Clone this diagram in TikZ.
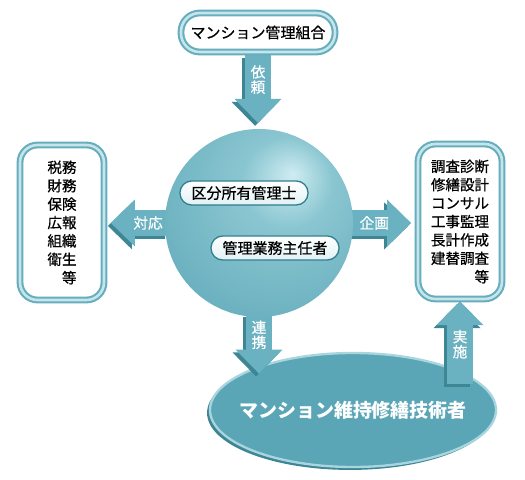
\documentclass[tikz,border=0pt]{standalone}
\usepackage{fontspec}
\setmainfont{Noto Sans CJK JP}
\newfontfamily\jpmed{Noto Sans CJK JP}[FakeBold=0.6]
\usetikzlibrary{arrows.meta,shapes.geometric,positioning}

\definecolor{boxline}{HTML}{66AEBD}
\definecolor{boxlight}{HTML}{C6E5EB}
\definecolor{arrowcol}{HTML}{6AB2C1}
\definecolor{arrowdark}{HTML}{3F8694}
\definecolor{sphhi}{HTML}{CFECF1}
\definecolor{sphmid}{HTML}{8AC6D1}
\definecolor{sphlow}{HTML}{62AABA}
\definecolor{sphedge}{HTML}{4790A1}
\definecolor{ellfill}{HTML}{5AA6B6}
\definecolor{ellrim}{HTML}{A9D5DE}
\definecolor{elldark}{HTML}{3E8595}
\definecolor{roleline}{HTML}{2F7E8F}
\definecolor{rolefill}{HTML}{E2F1F4}

\pgfdeclareradialshading{sphereshade}{\pgfpoint{9bp}{13bp}}{color(0bp)=(sphhi); color(12bp)=(sphmid); color(40bp)=(sphlow); color(70bp)=(sphedge)}

\pgfdeclarelayer{background}
\pgfsetlayers{background,main}

\begin{document}
\begin{tikzpicture}
        [x=0.03cm, y=-0.03cm,
        every node/.style={inner sep=0pt},
        titlebox/.style={rectangle, rounded corners=16pt, draw=boxline, double=boxlight, double distance=2.2pt, line width=1.8pt, fill=white, minimum width=4.62cm, minimum height=1.17cm, font=\jpmed\fontsize{12.8}{14}\selectfont},
        listbox/.style={rectangle, rounded corners=15pt, draw=boxline, double=boxlight, double distance=2.2pt, line width=1.8pt, fill=white, minimum width=2.52cm, minimum height=4.65cm, align=right, font=\jpmed\fontsize{12.4}{15.7}\selectfont},
        ball/.style={circle, minimum size=5.64cm, shading=sphereshade},
        role/.style={rectangle, rounded corners=10pt, draw=roleline, line width=1.1pt, top color=white, bottom color=rolefill, minimum width=3.84cm, minimum height=0.72cm, font=\jpmed\fontsize{12.8}{14}\selectfont},
        worker/.style={ellipse, minimum width=8.58cm, minimum height=3.42cm, inner xsep=-0.5cm, fill=ellfill, draw=ellrim, line width=2pt, text=white, font=\fontsize{16.2}{18}\selectfont\bfseries, preaction={fill=elldark, transform canvas={shift={(-2.5pt,-2.5pt)}}}},
        blockarrow/.style={draw=arrowcol, line width=0.78cm, -{Triangle[width=1.41cm, length=0.72cm, line width=0pt]}},
        arrowshade/.style={blockarrow, draw=arrowdark, transform canvas={shift={(-2.5pt,-2.5pt)}}},
        arrowlabel/.style={text=white, align=center, font=\jpmed\fontsize{12.5}{12.8}\selectfont}]
        \useasboundingbox (0,0) rectangle (525,480);
        \node[titlebox] (1) at (258,32.5) {マンション管理組合};
        \node[ball] (2) at (259,223) {};
        \node[listbox] (3) at (62,222.5) {税務\\財務\\保険\\広報\\組織\\衛生\\等};
        \node[listbox] (4) at (460,221.5) {調査診断\\修繕設計\\コンサル\\工事監理\\長計作成\\建替調査\\等};
        \node[role] (6) at (244,193) {区分所有管理士};
        \node[role] (7) at (275,248) {管理業務主任者};
        \begin{pgfonlayer}{background}
        \node[worker] (5) at (353,410) {マンション維持修繕技術者};
        % shadows first
        \draw[arrowshade, shorten <=2pt, shorten >=5pt] (1.south) -- (1.south |- 2.north);
        \draw[arrowshade, shorten <=-3pt, shorten >=5pt] (2.west) -- (2.west -| 3.east);
        \draw[arrowshade, shorten <=-3pt, shorten >=5pt] (2.east) -- (2.east -| 4.west);
        \draw[arrowshade, shorten <=-3pt, shorten >=-4pt] (2.south) -- (2.south |- 5.north west);
        \draw[arrowshade, shorten <=-13pt, shorten >=1pt] (4.south |- 5.north east) -- (4.south);
        % arrows
        \draw[blockarrow, shorten <=2pt, shorten >=5pt] (1.south) -- (1.south |- 2.north)
            node[arrowlabel, pos=0.35] {依\\頼};
        \draw[blockarrow, shorten <=-3pt, shorten >=5pt] (2.west) -- (2.west -| 3.east)
            node[arrowlabel, pos=0.28] {対応};
        \draw[blockarrow, shorten <=-3pt, shorten >=5pt] (2.east) -- (2.east -| 4.west)
            node[arrowlabel, pos=0.33] {企画};
        \draw[blockarrow, shorten <=-3pt, shorten >=-4pt] (2.south) -- (2.south |- 5.north west)
            node[arrowlabel, pos=0.34] {連\\携};
        \draw[blockarrow, shorten <=-13pt, shorten >=1pt] (4.south |- 5.north east) -- (4.south)
            node[arrowlabel, pos=0.36] {実\\施};
        \end{pgfonlayer}
    \end{tikzpicture}
\end{document}
